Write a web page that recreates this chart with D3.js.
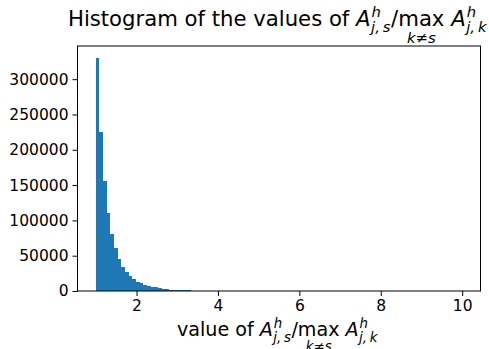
<!DOCTYPE html>
<html>
<head>
<meta charset="utf-8">
<script src="https://cdn.jsdelivr.net/npm/d3@7"></script>
<style>
  body { margin: 0; background: #fff; }
  text { font-family: "DejaVu Sans", sans-serif; fill: #000; white-space: pre; }
</style>
</head>
<body>
<div id="chart"></div>
<script>
// histogram: 100 bins between 1 and 10
const binStart = 1,
  binEnd = 10
const counts = [
  330500, 225000, 156000, 111000, 80800, 60500, 45400, 34000, 27000, 21200,
  16500, 12700, 10900, 8000, 6600, 5300, 5000, 3800, 2600, 2300,
  2000, 1500, 1300, 1150, 1000, 850, 500, 430, 370, 320,
  270, 230, 200, 170, 150, 130, 110, 95, 82, 70,
  60, 52, 45, 39, 34, 30, 26, 23, 20, 18,
  16, 14, 12, 11, 10, 9, 8, 7, 6, 6,
  5, 5, 4, 4, 4, 3, 3, 3, 2, 2,
  2, 2, 2, 1, 1, 1, 1, 1, 1, 1,
  1, 1, 0, 1, 0, 1, 0, 0, 1, 0,
  0, 0, 0, 0, 1, 0, 0, 0, 0, 1
]
const xTicks = [2, 4, 6, 8, 10]
const yTicks = [0, 50000, 100000, 150000, 200000, 250000, 300000]

const width = 489,
  height = 349,
  marginLeft = 77.5,
  marginRight = 8.5,
  marginTop = 46,
  marginBottom = 58

const svg = d3.select('#chart')
  .append('svg')
  .attr('width', width)
  .attr('height', height)

const binW = (binEnd - binStart) / counts.length
const bins = counts.map((c, i) => ({ x0: binStart + i * binW, x1: binStart + (i + 1) * binW, n: c }))

// matplotlib style 5% margins
const pad = (binEnd - binStart) * 0.05
const xScale = d3.scaleLinear()
  .domain([binStart - pad, binEnd + pad])
  .range([marginLeft, width - marginRight])

const yScale = d3.scaleLinear()
  .domain([0, d3.max(counts) * 1.05])
  .range([height - marginBottom, marginTop])

svg.append('g')
  .selectAll('rect')
  .data(bins)
  .enter()
  .append('rect')
  .attr('fill', '#1f77b4')
  .attr('shape-rendering', 'crispEdges')
  .attr('x', d => xScale(d.x0))
  .attr('y', d => yScale(d.n))
  .attr('width', d => xScale(d.x1) - xScale(d.x0))
  .attr('height', d => yScale(0) - yScale(d.n))

const xAxis = d3.axisBottom(xScale).tickValues(xTicks).tickSize(5).tickPadding(4).tickFormat(d3.format('d'))
const yAxis = d3.axisLeft(yScale).tickValues(yTicks).tickSize(5).tickPadding(4).tickFormat(d3.format('d'))

const gx = svg.append('g')
  .attr('transform', `translate(0,${height - marginBottom})`)
  .call(xAxis)
const gy = svg.append('g')
  .attr('transform', `translate(${marginLeft},0)`)
  .call(yAxis)

;[gx, gy].forEach(g => {
  g.attr('font-size', null).attr('font-family', null)
  g.select('.domain').remove()
  g.selectAll('.tick line').attr('stroke', '#000').attr('stroke-width', 1)
  g.selectAll('.tick text').style('font-size', '15.5px').attr('fill', '#000')
})

// axes frame
svg.append('rect')
  .attr('x', marginLeft)
  .attr('y', marginTop)
  .attr('width', width - marginRight - marginLeft)
  .attr('height', height - marginBottom - marginTop)
  .attr('fill', 'none')
  .attr('stroke', '#000')
  .attr('stroke-width', 1)

// tiny mathtext-like layout
let drawMath = (g, pieces, fs) => {
  let x = 0
  pieces.forEach(p => {
    const t = g.append('text')
      .attr('x', x).attr('y', 0)
      .style('font-size', fs + 'px')
      .style('font-style', p.i ? 'oblique' : 'normal')
      .text(p.t)
    let w = t.node().getComputedTextLength()
    if (p.under) {
      g.append('text')
        .attr('x', x + w / 2).attr('y', 0.8 * fs)
        .style('font-size', 0.7 * fs + 'px')
        .attr('text-anchor', 'middle')
        .style('font-style', 'oblique')
        .text(p.under)
    }
    if (p.sup) {
      const a = g.append('text')
        .attr('x', x + w + 1).attr('y', -0.42 * fs)
        .style('font-size', 0.7 * fs + 'px')
        .style('font-style', 'oblique')
        .text(p.sup)
      const b = g.append('text')
        .attr('x', x + w + 0.5).attr('y', 0.3 * fs)
        .style('font-size', 0.7 * fs + 'px')
        .style('font-style', 'oblique')
        .text(p.sub)
      w += Math.max(a.node().getComputedTextLength(), b.node().getComputedTextLength()) + 1
    }
    x += w
  })
  return x
}

const ratio = [
  { t: 'A', i: true, sup: 'h', sub: 'j,\u2009s' },
  { t: '/' },
  { t: 'max', under: 'k\u2260s' },
  { t: ' ' },
  { t: 'A', i: true, sup: 'h', sub: 'j,\u2009k' }
]

const cx = (marginLeft + width - marginRight) / 2 - 1.5

const title = svg.append('g')
const tw = drawMath(title, [{ t: 'Histogram of the values of ' }].concat(ratio), 21.2)
title.attr('transform', `translate(${cx - tw / 2},26)`)

const xlab = svg.append('g')
const lw = drawMath(xlab, [{ t: 'value of ' }].concat(ratio), 19.1)
xlab.attr('transform', `translate(${cx - lw / 2},336)`)
</script>
</body>
</html>
